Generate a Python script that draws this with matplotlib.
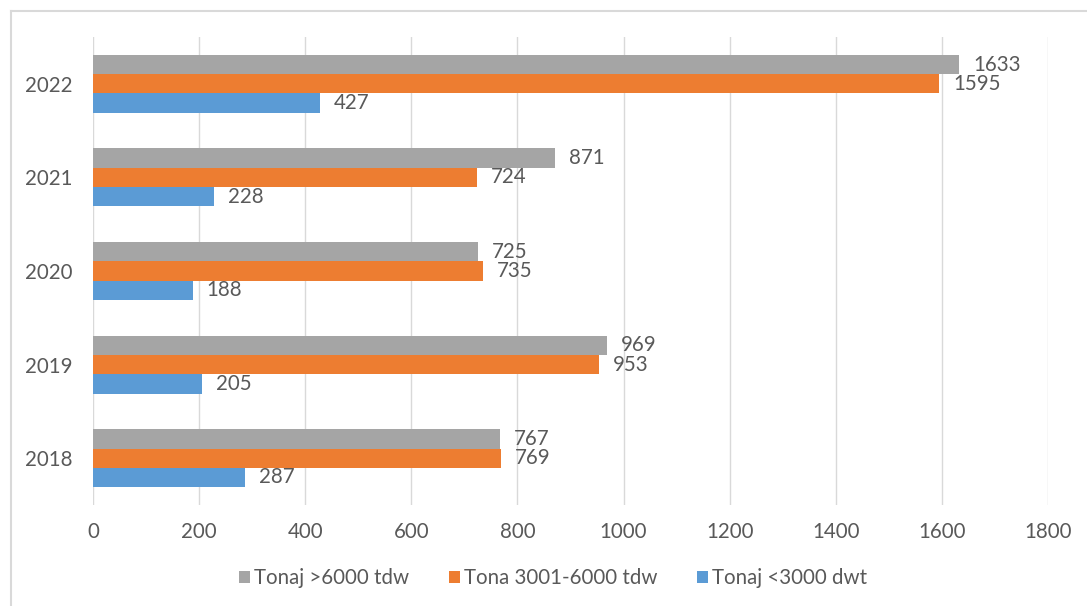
import matplotlib
matplotlib.use("Agg")
import matplotlib.pyplot as plt
import numpy as np
from matplotlib.lines import Line2D

years = ["2018", "2019", "2020", "2021", "2022"]
series_names = ["Tonaj >6000 tdw", "Tona 3001-6000 tdw", "Tonaj <3000 dwt"]
gt6000 = [767, 969, 725, 871, 1633]
t3001_6000 = [769, 953, 735, 724, 1595]
lt3000 = [287, 205, 188, 228, 427]
x_ticks = [0, 200, 400, 600, 800, 1000, 1200, 1400, 1600, 1800]

colors = ["#a5a5a5", "#ed7d31", "#5b9bd5"]
text_color = "#595959"
plt.rcParams['font.family'] = ['Lato', 'DejaVu Sans']
fs = 14.8

fig = plt.figure(figsize=(10.87, 6.06), dpi=100)
ax = fig.add_axes([93/1087, 1-505/606, (1048-93)/1087, (505-37)/606])

y = np.arange(len(years))
h = 0.206
offsets = [h, 0, -h]
data = [gt6000, t3001_6000, lt3000]
for vals, off, c, name in zip(data, offsets, colors, series_names):
    bars = ax.barh(y + off, vals, height=h, color=c, label=name, zorder=3)
    for b, v in zip(bars, vals):
        ax.annotate(str(v), (b.get_width(), b.get_y() + b.get_height()/2),
                    xytext=(10, 0), textcoords="offset points",
                    ha="left", va="center", fontsize=fs, color=text_color)

ax.set_xlim(0, 1800)
ax.set_ylim(-0.5, 4.5)
ax.set_xticks(x_ticks)
ax.set_xticklabels([str(t) for t in x_ticks])
ax.set_yticks(y)
ax.set_yticklabels(years)
ax.tick_params(axis="both", length=0, labelsize=fs, labelcolor=text_color)
ax.tick_params(axis="x", pad=12)
ax.tick_params(axis="y", pad=15)
ax.grid(axis="x", color="#d9d9d9", linewidth=1, zorder=0)
ax.grid(axis="y", visible=False)
for s in ax.spines.values():
    s.set_visible(False)

# chart border
fig.add_artist(Line2D([11/1087, 1], [1-11/606, 1-11/606], color="#d9d9d9", linewidth=1.5, transform=fig.transFigure))
fig.add_artist(Line2D([11/1087, 11/1087], [0, 1-11/606], color="#d9d9d9", linewidth=1.5, transform=fig.transFigure))

handles, labels = ax.get_legend_handles_labels()
leg = fig.legend(handles, labels, loc="center", bbox_to_anchor=(553/1087, 1-578/606),
                 ncol=3, frameon=False, fontsize=fs, labelcolor=text_color,
                 handlelength=0.55, handleheight=0.55, handletextpad=0.2, columnspacing=1.9)

fig.savefig("out.png", dpi=100)
